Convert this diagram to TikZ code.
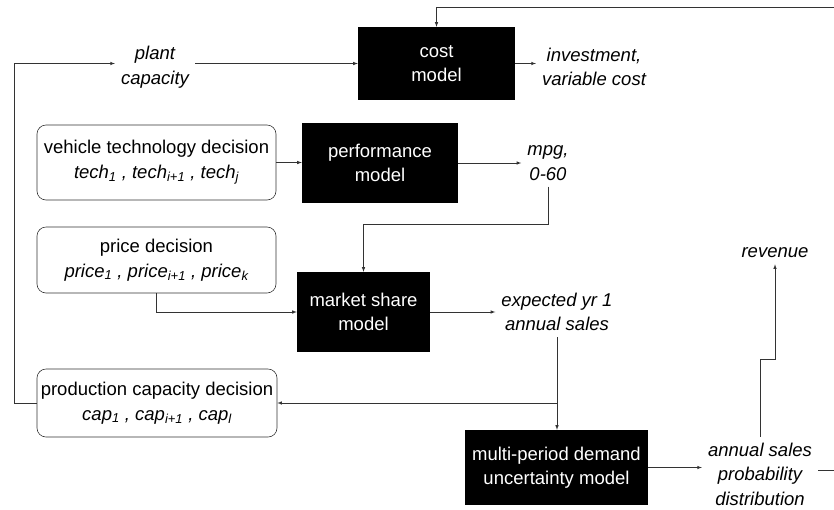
\documentclass[tikz,border=0pt]{standalone}
\usepackage{fontspec}
\setmainfont{Liberation Sans}
\usepackage{tikz}
\usetikzlibrary{arrows}
\usetikzlibrary{calc}
\newcommand{\diagfont}{\fontsize{18.5}{24.5}\selectfont}

\begin{document}
\begin{tikzpicture}[x=1pt,y=-1pt,font=\diagfont,
		model/.style={fill=black,text=white,align=center,inner sep=2pt},
		decision/.style={draw=black!80,line width=0.6pt,rounded corners=9pt,align=center,inner sep=2pt},
		outvar/.style={font=\diagfont\itshape,align=center,inner sep=6pt},
		flow/.style={draw=black!80,line width=0.6pt,-latex}]
					\useasboundingbox (0,0) rectangle (834,509);
					\foreach \name/\x/\y/\w/\h/\txt in {cost/436.5/63.5/157/73/{cost\\model}, perf/380/163/156/80/{performance\\model}, share/363.5/312/133/80/{market share\\model}, demand/556.5/467.5/183/75/{multi-period demand\\uncertainty model}} {
						\node[model,minimum width=\w,minimum height=\h] (\name) at (\x,\y) {\txt};
					}
					\node[decision,minimum width=239,minimum height=75] (vtech) at (156.5,162.5) {vehicle technology decision\\\textit{tech\textsubscript{1} , tech\textsubscript{i+1} , tech\textsubscript{j}}};
					\node[decision,minimum width=239,minimum height=66] (price) at (156.5,260) {price decision\\\textit{price\textsubscript{1} , price\textsubscript{i+1} , price\textsubscript{k}}};
					\node[decision,minimum width=240,minimum height=68] (prod) at (157,403) {production capacity decision\\\textit{cap\textsubscript{1} , cap\textsubscript{i+1} , cap\textsubscript{l}}};
					\node[outvar] (plant) at (155,67) {plant\\capacity};
					\node[outvar] (invest) at (594,67) {investment,\\variable cost};
					\node[outvar] (mpg) at (548,163) {mpg,\\0-60};
					\node[outvar] (sales) at (557,312) {expected yr 1\\annual sales};
					\node[outvar] (dist) at (760,474) {annual sales\\probability\\distribution};
					\node[outvar] (revenue) at (775,253) {revenue};
					\coordinate (topright) at (834,7);
					\coordinate (stub) at (834,470);
					\draw[flow] (topright) -| (cost.north);
					\draw[flow] (plant.east |- cost.west) -- (cost.west);
					\draw[flow] (cost.east) -- (cost.east -| invest.west);
					\draw[flow] (prod.west) -- ++(-22,0) |- (plant.west |- cost.west);
					\draw[flow] (vtech.east) -- (vtech.east -| perf.west);
					\draw[flow] (perf.east) -- (perf.east -| mpg.west);
					\draw[flow] (mpg.south) -- ++(0,38) -| (share.north);
					\draw[flow] (price.south) |- (share.west);
					\draw[flow] (share.east) -- (share.east -| sales.west);
					\draw[flow] (sales.south) -- (sales.south |- demand.north);
					\draw[flow] (sales.south |- prod.east) -- (prod.east);
					\draw[flow] (demand.east) -- (demand.east -| dist.west);
					\draw[flow] (dist.north) -- ++(0,-77) -| (revenue.south);
					\draw[flow,-] (dist.east |- stub) -- (stub);
				\end{tikzpicture}
\end{document}
